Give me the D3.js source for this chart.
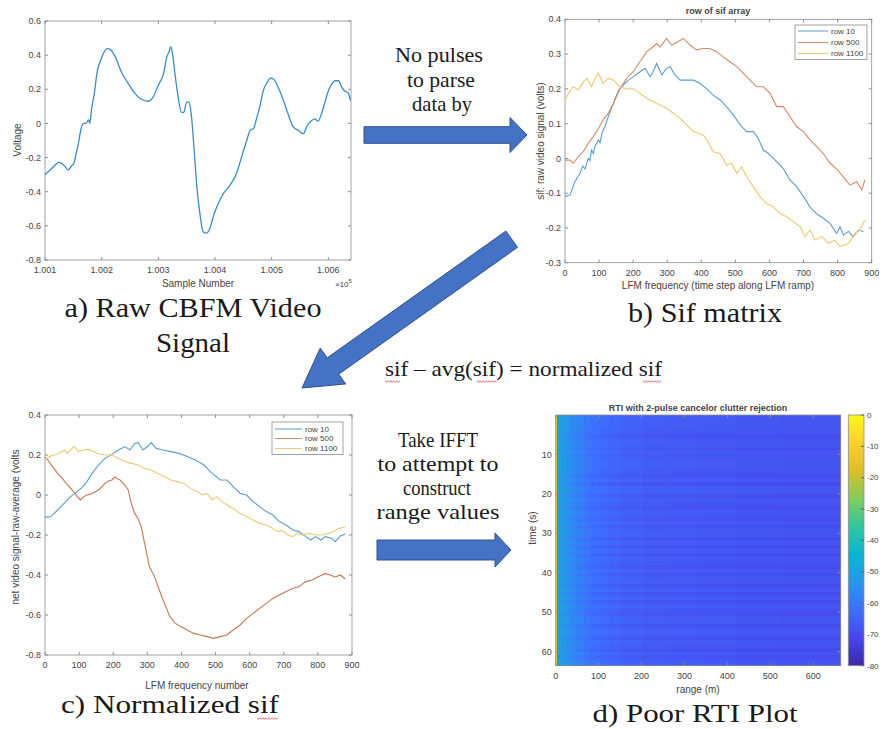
<!DOCTYPE html>
<html>
<head>
<meta charset="utf-8">
<script src="https://cdn.jsdelivr.net/npm/d3@7"></script>
<style>
  body { margin: 0; background: #fff; }
  svg { display: block; }
  .ax text { font-family: "Liberation Sans", Arial, sans-serif; fill: #444; }
  .cap { font-family: "Liberation Serif", "Times New Roman", serif; fill: #1a1a1a; }
</style>
</head>
<body>
<div id="chart"></div>
<script>
// ---- a) raw CBFM video signal (sample number, volts)
const rawSample = [100100, 100109, 100118, 100124, 100129, 100135, 100141, 100147, 100151, 100155, 100159, 100163, 100168, 100172, 100177, 100179, 100182, 100187, 100192, 100197, 100203, 100210, 100215, 100224, 100235, 100247, 100259, 100271, 100282, 100291, 100300, 100309, 100315, 100319, 100322, 100325, 100329, 100335, 100341, 100345, 100350, 100354, 100358, 100362, 100368, 100374, 100379, 100385, 100391, 100397, 100406, 100415, 100427, 100438, 100447, 100456, 100462, 100468, 100474, 100479, 100485, 100491, 100498, 100503, 100512, 100521, 100529, 100538, 100547, 100556, 100562, 100571, 100576, 100582, 100588, 100594, 100600, 100606, 100612, 100618, 100624, 100629, 100635, 100639];
const rawVoltage = [-0.30, -0.273, -0.244, -0.228, -0.234, -0.25, -0.273, -0.248, -0.234, -0.176, -0.117, -0.04, 0.0, 0.0, 0.02, 0.0, 0.08, 0.175, 0.30, 0.36, 0.41, 0.438, 0.434, 0.39, 0.30, 0.233, 0.175, 0.14, 0.13, 0.155, 0.224, 0.29, 0.39, 0.42, 0.45, 0.41, 0.30, 0.155, 0.065, 0.065, 0.125, 0.125, 0.057, -0.10, -0.37, -0.545, -0.634, -0.643, -0.614, -0.545, -0.468, -0.41, -0.36, -0.293, -0.196, -0.10, -0.04, -0.03, 0.037, 0.095, 0.19, 0.234, 0.265, 0.26, 0.207, 0.133, 0.055, -0.02, -0.04, -0.06, -0.018, 0.018, 0.027, 0.014, 0.057, 0.125, 0.19, 0.23, 0.25, 0.25, 0.21, 0.19, 0.18, 0.133];

// ---- b) rows of sif array [LFM step, volts]
const sifRow10 = [[0,-0.11],[15,-0.105],[29,-0.067],[44,-0.043],[52,-0.022],[59,-0.03],[68,0.0],[73,-0.006],[78,0.024],[83,0.014],[88,0.034],[98,0.053],[103,0.045],[108,0.072],[117,0.091],[127,0.12],[142,0.158],[157,0.196],[171,0.211],[186,0.225],[201,0.235],[220,0.249],[235,0.259],[250,0.235],[259,0.25],[269,0.273],[284,0.24],[298,0.259],[308,0.264],[323,0.24],[338,0.225],[357,0.225],[377,0.225],[396,0.216],[416,0.2],[435,0.182],[455,0.168],[474,0.149],[494,0.125],[514,0.096],[533,0.077],[553,0.077],[567,0.058],[582,0.024],[597,0.014],[611,0.0],[626,-0.014],[641,-0.03],[660,-0.062],[680,-0.082],[700,-0.11],[719,-0.14],[739,-0.16],[758,-0.172],[778,-0.187],[797,-0.216],[807,-0.197],[817,-0.22],[832,-0.21],[846,-0.225],[861,-0.206],[876,-0.21]];
const sifRow500 = [[0,-0.005],[15,-0.005],[24,-0.014],[39,0.005],[54,0.02],[68,0.043],[83,0.062],[98,0.086],[112,0.11],[127,0.13],[142,0.158],[161,0.2],[181,0.23],[201,0.25],[220,0.278],[240,0.307],[259,0.321],[269,0.33],[279,0.32],[298,0.345],[313,0.326],[333,0.336],[347,0.345],[367,0.326],[386,0.312],[406,0.316],[425,0.316],[445,0.307],[464,0.292],[484,0.278],[504,0.264],[523,0.245],[543,0.225],[562,0.206],[582,0.206],[602,0.187],[621,0.149],[641,0.149],[660,0.12],[680,0.091],[700,0.077],[719,0.053],[739,0.034],[758,0.014],[778,-0.014],[797,-0.03],[817,-0.053],[836,-0.077],[856,-0.067],[871,-0.09],[880,-0.062]];
const sifRow1100 = [[0,0.168],[10,0.187],[24,0.206],[39,0.197],[54,0.22],[64,0.23],[78,0.206],[88,0.23],[98,0.245],[112,0.216],[127,0.23],[142,0.225],[161,0.206],[181,0.2],[201,0.2],[220,0.187],[240,0.173],[259,0.163],[279,0.153],[298,0.144],[318,0.13],[338,0.115],[357,0.096],[377,0.077],[391,0.072],[406,0.067],[420,0.048],[435,0.019],[455,0.014],[474,-0.019],[489,-0.014],[504,-0.043],[518,-0.024],[533,-0.053],[553,-0.082],[572,-0.11],[592,-0.13],[611,-0.139],[631,-0.158],[650,-0.168],[670,-0.182],[690,-0.196],[704,-0.225],[719,-0.206],[734,-0.235],[753,-0.225],[773,-0.244],[792,-0.235],[807,-0.254],[822,-0.249],[836,-0.24],[851,-0.216],[866,-0.206],[880,-0.177]];

// ---- c) normalized sif [LFM number, volts]
const normRow10 = [[0,-0.112],[17,-0.108],[37,-0.075],[56,-0.042],[75,-0.008],[94,0.017],[109,0.038],[123,0.067],[138,0.108],[157,0.15],[176,0.183],[196,0.203],[215,0.225],[234,0.242],[249,0.225],[263,0.258],[273,0.262],[287,0.225],[302,0.245],[311,0.262],[326,0.233],[345,0.225],[369,0.217],[393,0.208],[417,0.192],[441,0.175],[466,0.15],[490,0.108],[514,0.075],[533,0.075],[552,0.042],[572,0.008],[591,0.0],[610,-0.033],[629,-0.058],[649,-0.083],[668,-0.1],[687,-0.133],[707,-0.15],[726,-0.175],[745,-0.183],[764,-0.208],[779,-0.225],[793,-0.208],[808,-0.225],[822,-0.208],[841,-0.217],[851,-0.233],[866,-0.205],[880,-0.195]];
const normRow500 = [[0,0.19],[8,0.175],[22,0.142],[37,0.108],[51,0.083],[66,0.05],[80,0.025],[94,-0.008],[104,-0.025],[114,-0.008],[123,0.0],[138,0.008],[157,0.025],[176,0.058],[186,0.07],[196,0.075],[205,0.09],[210,0.083],[220,0.075],[234,0.05],[244,0.025],[253,-0.042],[263,-0.092],[273,-0.117],[282,-0.158],[292,-0.242],[306,-0.358],[321,-0.408],[335,-0.475],[350,-0.542],[364,-0.6],[379,-0.638],[398,-0.658],[417,-0.675],[436,-0.692],[456,-0.7],[475,-0.708],[494,-0.717],[514,-0.708],[533,-0.7],[552,-0.675],[572,-0.65],[591,-0.617],[610,-0.592],[629,-0.567],[649,-0.542],[668,-0.517],[687,-0.5],[707,-0.483],[726,-0.467],[745,-0.458],[764,-0.433],[783,-0.425],[803,-0.408],[822,-0.392],[836,-0.4],[851,-0.41],[866,-0.4],[880,-0.42]];
const normRow1100 = [[0,0.175],[13,0.192],[27,0.2],[41,0.208],[56,0.225],[66,0.208],[75,0.225],[85,0.242],[99,0.217],[114,0.225],[128,0.228],[143,0.217],[157,0.205],[176,0.2],[196,0.2],[215,0.183],[234,0.167],[253,0.158],[273,0.15],[292,0.133],[311,0.125],[330,0.108],[350,0.092],[369,0.075],[388,0.067],[407,0.058],[427,0.033],[446,0.017],[461,0.0],[475,0.008],[490,-0.025],[504,-0.008],[519,-0.033],[533,-0.05],[552,-0.067],[572,-0.092],[591,-0.108],[610,-0.125],[629,-0.142],[649,-0.15],[668,-0.167],[682,-0.183],[697,-0.178],[711,-0.2],[726,-0.208],[740,-0.192],[754,-0.2],[774,-0.192],[793,-0.2],[812,-0.2],[832,-0.192],[846,-0.183],[861,-0.167],[880,-0.16]];

const rowNames = ["row 10", "row 500", "row 1100"];

// ---- d) RTI image: range bins (m), power per bin (dB), per-pulse offset (dB)
const rangeEdges = [0, 4, 12, 24, 36, 50, 65, 80, 100, 125, 150, 200, 260, 330, 420, 520, 664];
const rangePower = [-16, -50, -52, -54, -56, -58, -60, -61.5, -63, -64, -65, -66, -66.5, -67, -67.5, -68];
const pulseOffset = [0,0,0,0,-1,-2,0,0,-2,0,-1,0,0,0,-1,-2,0,-2,0,0,-2,0,-1,-2,0,0,-2,0,-2,0,0,-2,0,-2,0,-2,0,-1,-2,0,-2,0,0,-2,0,-2,0,-2,0,-1,-2,0,0,-2,0,0,-2,0,-1,-2,0,-2,0,0];
const colorbarTicks = [0, -10, -20, -30, -40, -50, -60, -70, -80];
// parula colormap, 10 evenly spaced samples from -80 dB to 0 dB
const parula = ["#3e26a8", "#4747eb", "#3e6fff", "#2796eb", "#08b5d0", "#31c69f", "#81cc59", "#dcbd29", "#fccf30", "#f9fb0e"];

const width = 885;
const height = 729;

const svg = d3.select("#chart")
  .append("svg")
  .attr("viewBox", [0, 0, width, height])
  .attr("width", width)
  .attr("height", height);

const lineColors = ["#5a9dcf", "#d58a68", "#ebcb72"];
const fmt = d => String(+d.toFixed(2));

// MATLAB-ish box axes with inward ticks on all sides
function drawAxes(x, y, xTicks, yTicks, xFmt, yFmt) {
  const [l, r] = x.range();
  const top = Math.min(...y.range()), bot = Math.max(...y.range());
  const g = svg.append("g").attr("class", "ax");
  g.append("rect")
    .attr("x", l).attr("y", top)
    .attr("width", r - l).attr("height", bot - top)
    .attr("fill", "none").attr("stroke", "#8c8c8c").attr("stroke-width", 0.8);
  xTicks.forEach(t => {
    g.append("line").attr("x1", x(t)).attr("x2", x(t)).attr("y1", bot).attr("y2", bot - 3).attr("stroke", "#8c8c8c");
    g.append("line").attr("x1", x(t)).attr("x2", x(t)).attr("y1", top).attr("y2", top + 3).attr("stroke", "#8c8c8c");
    g.append("text").attr("x", x(t)).attr("y", bot + 10).attr("dy", "0.35em")
      .attr("text-anchor", "middle").attr("font-size", 9).text(xFmt(t));
  });
  yTicks.forEach(t => {
    g.append("line").attr("x1", l).attr("x2", l + 3).attr("y1", y(t)).attr("y2", y(t)).attr("stroke", "#8c8c8c");
    g.append("line").attr("x1", r).attr("x2", r - 3).attr("y1", y(t)).attr("y2", y(t)).attr("stroke", "#8c8c8c");
    g.append("text").attr("x", l - 4).attr("y", y(t)).attr("dy", "0.35em")
      .attr("text-anchor", "end").attr("font-size", 9).text(yFmt(t));
  });
  return g;
}

function axisLabel(g, text, x, y, rotate) {
  g.append("text")
    .attr("transform", `translate(${x},${y})` + (rotate ? " rotate(-90)" : ""))
    .attr("text-anchor", "middle").attr("dy", "0.35em")
    .attr("font-size", 10).text(text);
}

function legend(x0, y0, w, rows, lineLen) {
  const g = svg.append("g").attr("class", "ax");
  g.append("rect").attr("x", x0).attr("y", y0).attr("width", w).attr("height", rows[rows.length - 1] - y0 + 6)
    .attr("fill", "#fff").attr("stroke", "#8c8c8c").attr("stroke-width", 0.8);
  rowNames.forEach((name, i) => {
    g.append("line").attr("x1", x0 + 3).attr("x2", x0 + 3 + lineLen).attr("y1", rows[i]).attr("y2", rows[i])
      .attr("stroke", lineColors[i]).attr("stroke-width", 1);
    g.append("text").attr("x", x0 + 6 + lineLen).attr("y", rows[i]).attr("dy", "0.35em")
      .attr("font-size", 8).text(name);
  });
}

// ---------- panel a
const xA = d3.scaleLinear().domain([100100, 100640]).range([45, 351]);
const yA = d3.scaleLinear().domain([-0.8, 0.6]).range([260, 21]);
const gA = drawAxes(xA, yA, [100100, 100200, 100300, 100400, 100500, 100600], d3.range(-0.8, 0.61, 0.2),
  t => (t / 1e5).toFixed(3), fmt);
svg.append("path")
  .datum(d3.zip(rawSample, rawVoltage))
  .attr("fill", "none").attr("stroke", "#3a8cc8").attr("stroke-width", 1.3)
  .attr("d", d3.line().x(d => xA(d[0])).y(d => yA(d[1])).curve(d3.curveMonotoneX));
axisLabel(gA, "Sample Number", 198, 283, false);
axisLabel(gA, "Voltage", 17, 140, true);
gA.append("text").attr("x", 335).attr("y", 287).attr("font-size", 8)
  .text("×10").append("tspan").attr("dy", -4).attr("font-size", 6).text("5");

// ---------- panel b
const xB = d3.scaleLinear().domain([0, 900]).range([565, 871.7]);
const yB = d3.scaleLinear().domain([-0.3, 0.4]).range([262.7, 19.3]);
const gB = drawAxes(xB, yB, d3.range(0, 901, 100), d3.range(-0.3, 0.41, 0.1), fmt, fmt);
[sifRow10, sifRow500, sifRow1100].forEach((s, i) => {
  svg.append("path").datum(s)
    .attr("fill", "none").attr("stroke", lineColors[i]).attr("stroke-width", 1.1)
    .attr("d", d3.line().x(d => xB(d[0])).y(d => yB(d[1])));
});
gB.append("text").attr("x", 718).attr("y", 11).attr("text-anchor", "middle").attr("dy", "0.35em")
  .attr("font-size", 9).attr("font-weight", "bold").attr("fill", "#222").text("row of sif array");
axisLabel(gB, "LFM frequency (time step along LFM ramp)", 718, 285, false);
axisLabel(gB, "sif: raw video signal (volts)", 540, 141, true);
legend(795, 25, 72, [31, 42.5, 53.5], 30);

// ---------- panel c
const xC = d3.scaleLinear().domain([0, 900]).range([45, 352]);
const yC = d3.scaleLinear().domain([-0.8, 0.4]).range([655, 415]);
const gC = drawAxes(xC, yC, d3.range(0, 901, 100), d3.range(-0.8, 0.41, 0.2), fmt, fmt);
const cColors = ["#5a9dcf", "#c47552", "#ebcb72"];
[normRow10, normRow500, normRow1100].forEach((s, i) => {
  svg.append("path").datum(s)
    .attr("fill", "none").attr("stroke", cColors[i]).attr("stroke-width", 1.1)
    .attr("d", d3.line().x(d => xC(d[0])).y(d => yC(d[1])));
});
axisLabel(gC, "LFM frequency number", 197, 685, false);
axisLabel(gC, "net video signal-raw-average (volts", 15, 527, true);
legend(272, 422, 71, [429, 438.5, 448.5], 27);

// ---------- panel d
const xD = d3.scaleLinear().domain([0, 664]).range([555.7, 840.7]);
const yD = d3.scaleLinear().domain([0, 63.6]).range([415, 665.7]);
const color = d3.scaleLinear()
  .domain(parula.map((c, k) => -80 + k * 80 / (parula.length - 1)))
  .range(parula).clamp(true);

const cells = [];
pulseOffset.forEach((off, j) => {
  rangePower.forEach((p, i) => cells.push({ i, j, v: p + off }));
});
svg.append("g").attr("shape-rendering", "crispEdges")
  .selectAll("rect").data(cells).join("rect")
  .attr("x", d => xD(rangeEdges[d.i]))
  .attr("width", d => xD(rangeEdges[d.i + 1]) - xD(rangeEdges[d.i]) + 0.3)
  .attr("y", d => yD(d.j))
  .attr("height", d => yD(Math.min(d.j + 1, 63.6)) - yD(d.j) + 0.3)
  .attr("fill", d => color(d.v));

const gD = drawAxes(xD, yD, d3.range(0, 601, 100), d3.range(10, 61, 10), fmt, fmt);
gD.append("text").attr("x", 698).attr("y", 408).attr("text-anchor", "middle").attr("dy", "0.35em")
  .attr("font-size", 9).attr("font-weight", "bold").attr("fill", "#222").text("RTI with 2-pulse cancelor clutter rejection");
axisLabel(gD, "range (m)", 698, 689, false);
axisLabel(gD, "time (s)", 532, 528, true);

// colorbar
const cb = d3.scaleLinear().domain([-80, 0]).range([665.7, 415]);
const grad = svg.append("defs").append("linearGradient").attr("id", "parula")
  .attr("x1", 0).attr("x2", 0).attr("y1", 1).attr("y2", 0);
parula.forEach((c, k) => grad.append("stop").attr("offset", k / (parula.length - 1)).attr("stop-color", c));
const gCb = svg.append("g").attr("class", "ax");
gCb.append("rect").attr("x", 848.3).attr("y", cb(0)).attr("width", 15.7).attr("height", cb(-80) - cb(0))
  .attr("fill", "url(#parula)").attr("stroke", "#8c8c8c").attr("stroke-width", 0.8);
colorbarTicks.forEach(t => {
  gCb.append("line").attr("x1", 861).attr("x2", 864).attr("y1", cb(t)).attr("y2", cb(t)).attr("stroke", "#666");
  gCb.append("text").attr("x", 867).attr("y", cb(t)).attr("dy", "0.35em").attr("font-size", 8).text(t);
});

// ---------- block arrows
function arrowPath(x0, y0, x1, y1, bw, hw, hl) {
  const L = Math.hypot(x1 - x0, y1 - y0), ux = (x1 - x0) / L, uy = (y1 - y0) / L;
  const nx = -uy, ny = ux, bx = x1 - ux * hl, by = y1 - uy * hl;
  const pts = [[x0 + nx * bw, y0 + ny * bw], [bx + nx * bw, by + ny * bw], [bx + nx * hw, by + ny * hw],
    [x1, y1], [bx - nx * hw, by - ny * hw], [bx - nx * bw, by - ny * bw], [x0 - nx * bw, y0 - ny * bw]];
  return "M" + pts.map(p => p.join(",")).join("L") + "Z";
}
[[364, 135, 527, 135, 8.3, 17.5, 17],
 [511.7, 239.2, 302, 388, 10, 22, 38],
 [377, 550, 511, 550, 10, 17, 16]].forEach(a => {
  svg.append("path").attr("d", arrowPath(...a))
    .attr("fill", "#4472c4").attr("stroke", "#2f528f").attr("stroke-width", 1);
});

// ---------- slide text
const slideText = [
  ["No pulses", 439, 62, 88, 21], ["to parse", 441, 87, 68, 21], ["data by", 442, 111, 60, 21],
  ["sif \u2013 avg(sif) = normalized sif", 523.5, 376, 277, 21],
  ["Take IFFT", 438, 447, 80, 21], ["to attempt to", 438, 471, 121, 21],
  ["construct", 437, 495, 68, 21], ["range values", 438, 519, 123, 21],
  ["a) Raw CBFM Video", 193, 317, 257, 27], ["Signal", 193, 352, 74, 27],
  ["b) Sif matrix", 705, 322, 154, 27],
  ["c) Normalized sif", 170, 713, 218, 26], ["d) Poor RTI Plot", 695, 722, 205, 25]
];
slideText.forEach(([t, x, y, w, s]) => {
  svg.append("text").attr("class", "cap")
    .attr("x", x - w / 2).attr("y", y)
    .attr("font-size", s)
    .attr("textLength", w).attr("lengthAdjust", "spacingAndGlyphs")
    .text(t);
});

// red spell-check squiggles under "sif"
function squiggle(x0, x1, y) {
  const pts = [];
  for (let x = x0, k = 0; x <= x1; x += 1.5, k++) pts.push([x, y + (k % 2 ? 1.2 : -0.2)]);
  svg.append("path").attr("d", d3.line()(pts)).attr("fill", "none").attr("stroke", "#e03a3a").attr("stroke-width", 0.8);
}
squiggle(385, 400, 381);
squiggle(477, 497, 381);
squiggle(643, 662, 381);
squiggle(257, 278, 718);
</script>
</body>
</html>
